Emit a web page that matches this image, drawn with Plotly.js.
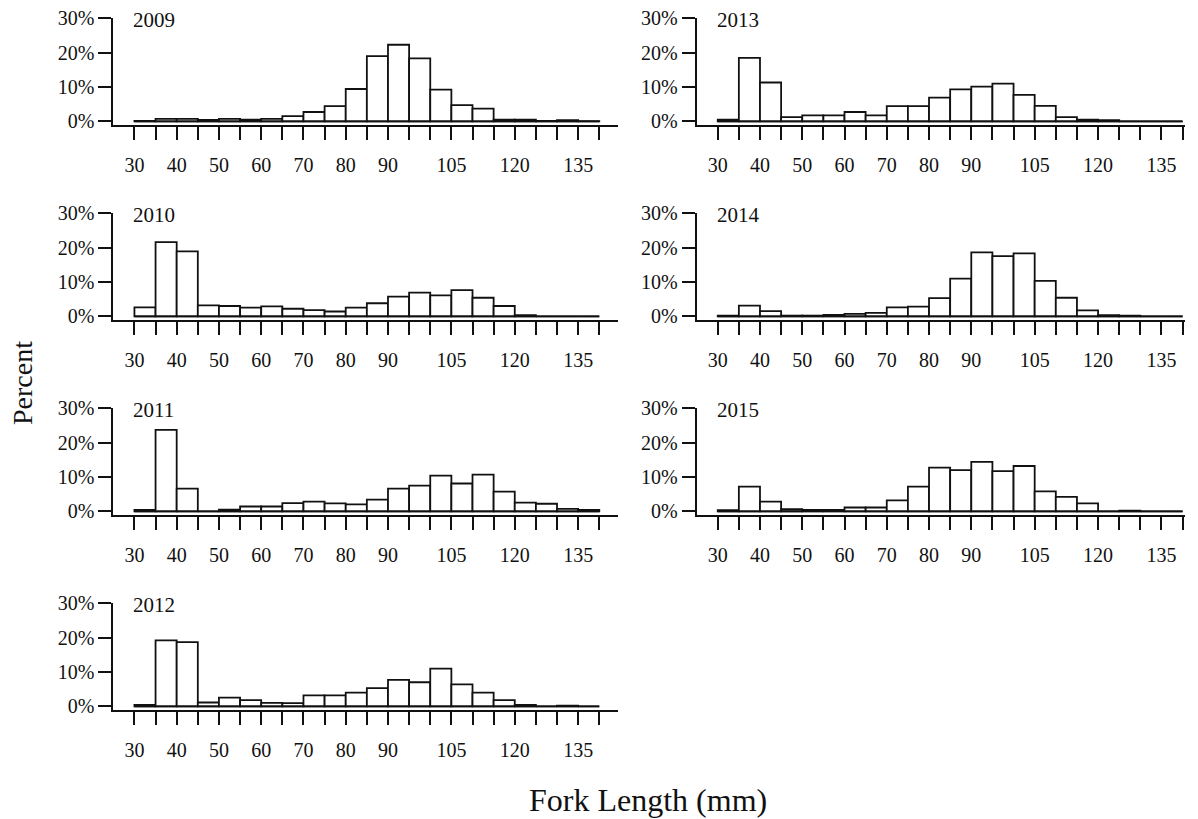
<!DOCTYPE html>
<html>
<head>
<meta charset="utf-8">
<script src="https://cdn.plot.ly/plotly-3.0.1.min.js"></script>
<style>
  html, body { margin: 0; padding: 0; background: #ffffff; }
  #chart { width: 1198px; height: 819px; }
</style>
</head>
<body>
<div id="chart"></div>
<script>
// ---------- DATA ----------
// Fork length bins (lower edge, mm); each bin is 5 mm wide
const binLower = [30, 35, 40, 45, 50, 55, 60, 65, 70, 75, 80, 85, 90, 95, 100, 105, 110, 115, 120, 125, 130, 135];
const binWidth = 5;

// x-axis ticks (every bin edge) and their labels
const xTickValues = [30, 35, 40, 45, 50, 55, 60, 65, 70, 75, 80, 85, 90, 95, 100, 105, 110, 115, 120, 125, 130, 135, 140];
const xTickLabels = ['30', '', '40', '', '50', '', '60', '', '70', '', '80', '', '90', '', '', '105', '', '', '120', '', '', '135', ''];

// y-axis ticks
const yTickValues = [0, 10, 20, 30];
const yTickLabels = ['0%', '10%', '20%', '30%'];

// Percent of fish in each bin, by year
const pct2009 = [0.1, 0.7, 0.7, 0.4, 0.7, 0.5, 0.7, 1.5, 2.7, 4.4, 9.4, 19.0, 22.3, 18.3, 9.2, 4.7, 3.7, 0.5, 0.5, 0.1, 0.3, 0.05];
const pct2010 = [2.6, 21.6, 18.9, 3.2, 3.0, 2.5, 2.9, 2.2, 1.8, 1.4, 2.5, 3.8, 5.7, 6.9, 6.1, 7.6, 5.4, 3.0, 0.3, 0, 0, 0];
const pct2011 = [0.4, 23.7, 6.6, 0, 0.5, 1.4, 1.4, 2.4, 2.8, 2.3, 2.0, 3.4, 6.6, 7.5, 10.4, 8.1, 10.7, 5.7, 2.5, 2.2, 0.7, 0.4];
const pct2012 = [0.4, 19.2, 18.7, 1.1, 2.5, 1.8, 1.0, 0.9, 3.2, 3.2, 4.0, 5.3, 7.7, 7.0, 11.0, 6.4, 4.0, 1.8, 0.4, 0, 0.2, 0];
const pct2013 = [0.5, 18.5, 11.3, 1.2, 1.7, 1.7, 2.7, 1.7, 4.4, 4.4, 6.9, 9.3, 10.1, 11.0, 7.7, 4.5, 1.2, 0.5, 0.3, 0, 0, 0];
const pct2014 = [0.2, 3.1, 1.5, 0.2, 0.2, 0.4, 0.7, 1.0, 2.6, 2.8, 5.3, 11.0, 18.6, 17.5, 18.3, 10.3, 5.4, 1.7, 0.3, 0.2, 0, 0];
const pct2015 = [0.3, 7.2, 2.8, 0.6, 0.4, 0.4, 1.1, 1.1, 3.2, 7.2, 12.7, 12.0, 14.4, 11.7, 13.2, 5.8, 4.2, 2.3, 0, 0.2, 0, 0];

const years = ['2009', '2010', '2011', '2012', '2013', '2014', '2015'];
const seriesByYear = [pct2009, pct2010, pct2011, pct2012, pct2013, pct2014, pct2015];

const yAxisTitle = 'Percent';
const xAxisTitle = 'Fork Length (mm)';

// ---------- LAYOUT (pixel geometry) ----------
const W = 1198, H = 819;
const FONT = '"Liberation Serif", "Times New Roman", Times, serif';
const columns = [
  { left: 113.3, right: 618.3, range: [25, 144.5] },
  { left: 696.6, right: 1184.7, range: [25, 140.5] }
];
const rowTops = [18.3, 213.3, 408.3, 603.3];
const panelHeight = 106.7;
const yRange = [-1.08, 30];
// panel placement: [column, row]
const placement = [[0, 0], [0, 1], [0, 2], [0, 3], [1, 0], [1, 1], [1, 2]];

const traces = [];
const layout = {
  width: W, height: H,
  margin: { l: 0, r: 0, t: 0, b: 0 },
  paper_bgcolor: '#ffffff',
  plot_bgcolor: '#ffffff',
  showlegend: false,
  font: { family: FONT, color: '#111111', size: 20 },
  annotations: []
};

years.forEach((yr, i) => {
  const k = i === 0 ? '' : String(i + 1);
  const [c, r] = placement[i];
  const col = columns[c];
  const top = rowTops[r];
  const bottom = top + panelHeight;

  traces.push({
    type: 'bar',
    x: binLower,
    y: seriesByYear[i],
    offset: 0,
    width: binWidth,
    marker: { color: '#ffffff', line: { color: '#111111', width: 1.8 } },
    xaxis: 'x' + k,
    yaxis: 'y' + k,
    hoverinfo: 'x+y'
  });
  // histogram baseline across all bins
  traces.push({
    type: 'scatter',
    mode: 'lines',
    x: [binLower[0], binLower[binLower.length - 1] + binWidth],
    y: [0, 0],
    line: { color: '#111111', width: 1.8 },
    xaxis: 'x' + k,
    yaxis: 'y' + k,
    hoverinfo: 'skip'
  });

  layout['xaxis' + k] = {
    domain: [col.left / W, col.right / W],
    range: col.range,
    anchor: 'y' + k,
    showline: true, linecolor: '#111111', linewidth: 2,
    ticks: 'outside', ticklen: 13, tickwidth: 2, tickcolor: '#111111',
    tickmode: 'array', tickvals: xTickValues, ticktext: xTickLabels,
    tickfont: { family: FONT, size: 20, color: '#111111' },
    ticklabelstandoff: 8,
    showgrid: false, zeroline: false, fixedrange: true
  };
  layout['yaxis' + k] = {
    domain: [1 - bottom / H, 1 - top / H],
    range: yRange,
    anchor: 'x' + k,
    showline: true, linecolor: '#111111', linewidth: 2,
    ticks: 'outside', ticklen: 13, tickwidth: 2, tickcolor: '#111111',
    tickmode: 'array', tickvals: yTickValues, ticktext: yTickLabels,
    tickfont: { family: FONT, size: 20, color: '#111111' },
    showgrid: false, zeroline: false, fixedrange: true
  };
  layout.annotations.push({
    text: yr, xref: 'x' + k, yref: 'y' + k,
    x: binLower[0], y: yTickValues[yTickValues.length - 1],
    xanchor: 'left', yanchor: 'middle', xshift: -3, yshift: -2,
    showarrow: false,
    font: { family: FONT, size: 21, color: '#111111' }
  });
});

layout.annotations.push({
  text: yAxisTitle, xref: 'paper', yref: 'paper',
  x: 22 / W, y: 1 - 383 / H, xanchor: 'center', yanchor: 'middle',
  textangle: -90, showarrow: false,
  font: { family: FONT, size: 28, color: '#111111' }
});
layout.annotations.push({
  text: xAxisTitle, xref: 'paper', yref: 'paper',
  x: 648 / W, y: 1 - 800 / H, xanchor: 'center', yanchor: 'middle',
  showarrow: false,
  font: { family: FONT, size: 32, color: '#111111' }
});

Plotly.newPlot('chart', traces, layout, { staticPlot: true, displayModeBar: false });
</script>
</body>
</html>
